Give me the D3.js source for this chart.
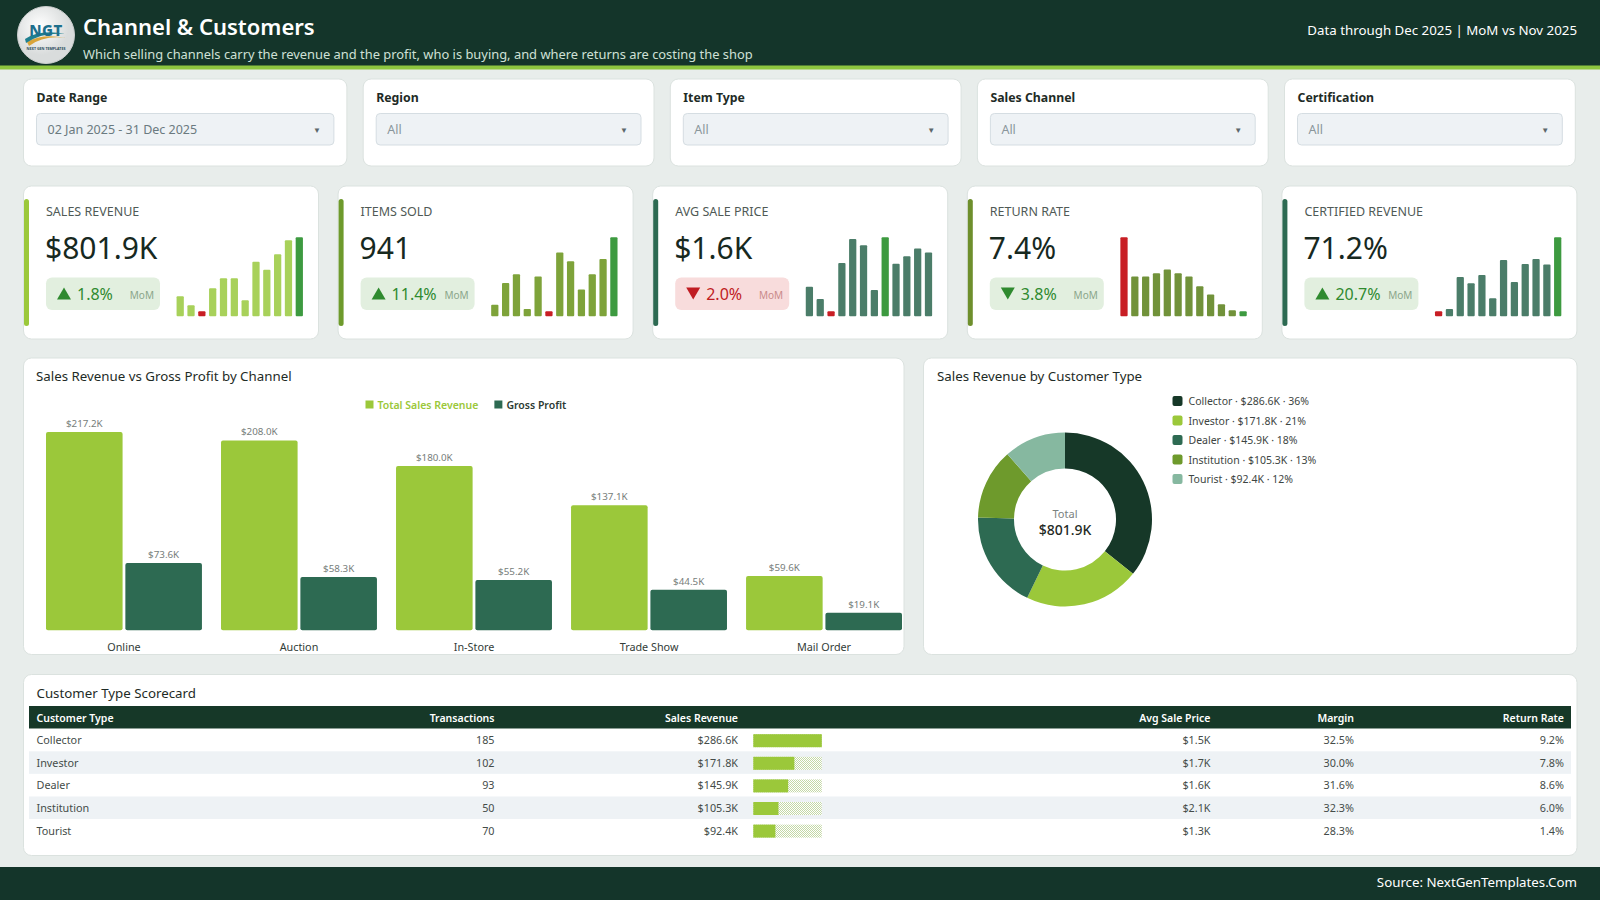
<!DOCTYPE html>
<html>
<head>
<meta charset="utf-8">
<title>Channel & Customers</title>
<script src="https://cdn.jsdelivr.net/npm/d3@7"></script>
<style>
html, body { margin: 0; padding: 0; background: #e8edeb; }
svg { display: block; font-family: "Segoe UI", "Noto Sans", sans-serif; }
</style>
</head>
<body>
<div id="dash"></div>
<script>
// ---- data ----
const filterLabels = ["Date Range", "Region", "Item Type", "Sales Channel", "Certification"];
const filterValues = ["02 Jan 2025 - 31 Dec 2025", "All", "All", "All", "All"];

const kpiTitles = ["SALES REVENUE", "ITEMS SOLD", "AVG SALE PRICE", "RETURN RATE", "CERTIFIED REVENUE"];
const kpiValues = ["$801.9K", "941", "$1.6K", "7.4%", "71.2%"];
const kpiDeltas = [1.8, 11.4, -2.0, -3.8, 20.7];
const kpiLowerIsBetter = [false, false, false, true, false];

const months = ["Jan", "Feb", "Mar", "Apr", "May", "Jun", "Jul", "Aug", "Sep", "Oct", "Nov", "Dec"];
const revenueMonthly = [56.8, 52.1, 49.0, 60.9, 66.1, 66.1, 54.7, 74.6, 70.4, 78.4, 85.7, 87.2];
const itemsMonthly = [66, 76, 80, 64, 79, 63, 90, 86, 73, 80, 87, 97];
const avgPriceMonthly = [1470, 1360, 1250, 1680, 1895, 1840, 1440, 1910, 1675, 1740, 1810, 1775];
const returnRateMonthly = [13.4, 8.15, 8.15, 8.6, 9.1, 8.6, 8.15, 6.85, 5.75, 4.45, 3.64, 3.5];
const certifiedMonthly = [50.6, 52.0, 71.1, 67.3, 72.3, 58.4, 81.2, 68.1, 78.8, 81.8, 78.5, 94.8];

const channels = ["Online", "Auction", "In-Store", "Trade Show", "Mail Order"];
const channelRevenue = [217.2, 208.0, 180.0, 137.1, 59.6];
const channelProfit = [73.6, 58.3, 55.2, 44.5, 19.1];

const totalSalesRevenue = 801.9;
const customerTypes = ["Collector", "Investor", "Dealer", "Institution", "Tourist"];
const customerRevenue = [286.6, 171.8, 145.9, 105.3, 92.4];
const customerTransactions = [185, 102, 93, 50, 70];
const customerAvgPrice = [1.5, 1.7, 1.6, 2.1, 1.3];
const customerMargin = [32.5, 30.0, 31.6, 32.3, 28.3];
const customerReturnRate = [9.2, 7.8, 8.6, 6.0, 1.4];

// ---- colours ----
const dark = "#14352a";
const lime = "#9bc83a";
const forest = "#2d6a52";
const kpiAccent = ["#9bc83a", "#6e9a2c", "#2d6a52", "#6e8f2c", "#2d6a52"];
const sparkColor = ["#a8d15a", "#7ea33a", "#4b7d69", "#71923a", "#4b7d69"];
const sparkGood = "#3d9a40";
const sparkBad = "#c81e24";
const donutColors = ["#163828", "#9bc83a", "#2d6a52", "#6e9a2c", "#86b8a0"];

const fmtK = v => "$" + d3.format(".1f")(v) + "K";

const W = 1600, H = 900;
const svg = d3.select("#dash").append("svg")
    .attr("width", W)
    .attr("height", H);

const defs = svg.append("defs");
const grad = defs.append("radialGradient").attr("id", "logoGrad").attr("cx", "40%").attr("cy", "35%");
grad.append("stop").attr("offset", "0%").attr("stop-color", "#ffffff");
grad.append("stop").attr("offset", "100%").attr("stop-color", "#d9dcdc");
const hatch = defs.append("pattern").attr("id", "hatch")
    .attr("width", 2).attr("height", 2).attr("patternUnits", "userSpaceOnUse");
hatch.append("rect").attr("width", 2).attr("height", 2).attr("fill", "#ffffff");
hatch.append("rect").attr("width", 1).attr("height", 1).attr("fill", "#c4d8a6");
hatch.append("rect").attr("x", 1).attr("y", 1).attr("width", 1).attr("height", 1).attr("fill", "#c4d8a6");

svg.append("rect").attr("width", W).attr("height", H).attr("fill", "#e8edeb");

function panel(x, y, w, h) {
    return svg.append("rect")
        .attr("x", x).attr("y", y).attr("width", w).attr("height", h)
        .attr("rx", 8)
        .attr("fill", "#ffffff")
        .attr("stroke", "#dbe2df");
}

// ---- header ----
svg.append("rect").attr("width", W).attr("height", 66).attr("fill", dark);
svg.append("rect").attr("y", 65.5).attr("width", W).attr("height", 4).attr("fill", "#8dc63f");

const logo = svg.append("g").attr("transform", "translate(46,35)");
logo.append("circle").attr("r", 28.5).attr("fill", "url(#logoGrad)").attr("stroke", "#c9cccc");
logo.append("path")
    .attr("d", "M-19,7 Q-4,-2 20,3 Q-2,0 -17,11 Z")
    .attr("fill", "#d9a43a");
logo.append("path")
    .attr("d", "M-21,4 Q-6,-6 19,-1 Q-4,-3 -20,8 Z")
    .attr("fill", "#1f7f8f");
logo.append("text").attr("y", 1).attr("text-anchor", "middle")
    .attr("font-size", 15).attr("font-weight", 800).attr("fill", "#1d6f8c")
    .attr("letter-spacing", 0.5)
    .text("NGT");
logo.append("text").attr("y", 15).attr("text-anchor", "middle")
    .attr("font-size", 3.6).attr("font-weight", 700).attr("fill", "#2a4a5a")
    .text("NEXT GEN TEMPLATES");

svg.append("text").attr("x", 83).attr("y", 35)
    .attr("font-size", 22).attr("font-weight", 600).attr("fill", "#ffffff")
    .text("Channel & Customers");
svg.append("text").attr("x", 83).attr("y", 59)
    .attr("font-size", 12.9).attr("fill", "#cfe0d6")
    .text("Which selling channels carry the revenue and the profit, who is buying, and where returns are costing the shop");
svg.append("text").attr("x", 1577).attr("y", 35).attr("text-anchor", "end")
    .attr("font-size", 13.3).attr("fill", "#ffffff")
    .text("Data through Dec 2025 | MoM vs Nov 2025");

// ---- filter cards ----
filterLabels.forEach((label, i) => {
    const w = i === 0 ? 323.4 : 290.8;
    const x = i === 0 ? 23.5 : 23.5 + 323.4 + 16.3 + (i - 1) * (290.8 + 16.3);
    panel(x, 79, w, 87);
    svg.append("text").attr("x", x + 13).attr("y", 102)
        .attr("font-size", 12.3).attr("font-weight", 700).attr("fill", "#1e2b26")
        .text(label);
    svg.append("rect")
        .attr("x", x + 13).attr("y", 113.5).attr("width", w - 26).attr("height", 31.5)
        .attr("rx", 4).attr("fill", "#eef2f5").attr("stroke", "#d5dde2");
    svg.append("text").attr("x", x + 24).attr("y", 134)
        .attr("font-size", 12.5).attr("fill", i === 0 ? "#6b7a80" : "#8a969b")
        .text(filterValues[i]);
    svg.append("text").attr("x", x + w - 30).attr("y", 133)
        .attr("font-size", 8).attr("fill", "#5c676b").attr("text-anchor", "middle")
        .text("▼");
});

// ---- KPI cards ----
const sparkData = [revenueMonthly, itemsMonthly, avgPriceMonthly, returnRateMonthly, certifiedMonthly];
kpiTitles.forEach((title, i) => {
    const x = 23.5 + i * (295 + 19.6), y = 186, w = 295;
    panel(x, y, w, 153);
    svg.append("rect").attr("x", x + 0.5).attr("y", y + 13).attr("width", 5).attr("height", 127)
        .attr("rx", 2.5).attr("fill", kpiAccent[i]);
    svg.append("text").attr("x", x + 22.5).attr("y", y + 29.5)
        .attr("font-size", 12.5).attr("fill", "#505a56")
        .text(title);
    svg.append("text").attr("x", x + 21.5).attr("y", y + 73)
        .attr("font-size", 30).attr("fill", "#17291f")
        .text(kpiValues[i]);

    const up = kpiDeltas[i] >= 0;
    const good = kpiLowerIsBetter[i] ? !up : up;
    const tone = good ? "#2f8a2f" : "#c01c22";
    const badge = svg.append("g").attr("transform", `translate(${x + 22.5},${y + 91.5})`);
    badge.append("rect").attr("width", 114).attr("height", 32.5).attr("rx", 6)
        .attr("fill", good ? "#e2efdf" : "#f8dcdc");
    badge.append("path")
        .attr("d", up ? "M11,22 L18,10 L25,22 Z" : "M11,10 L25,10 L18,22 Z")
        .attr("fill", tone);
    badge.append("text").attr("x", 31).attr("y", 22)
        .attr("font-size", 16).attr("fill", tone)
        .text(d3.format(".1f")(Math.abs(kpiDeltas[i])) + "%");
    badge.append("text").attr("x", 108).attr("y", 21.5).attr("text-anchor", "end")
        .attr("font-size", 10).attr("fill", good ? "#8aa58a" : "#c98a8a")
        .text("MoM");

    // sparkline bars
    const vals = sparkData[i];
    const sx = d3.scaleBand().domain(months).range([x + 149.5, x + w - 12]).padding(0.33);
    const sh = d3.scaleLinear().domain(d3.extent(vals)).range([5, 79]);
    const base = y + 130.3;
    const maxV = d3.max(vals), minV = d3.min(vals);
    svg.append("g").selectAll("rect")
        .data(vals)
        .join("rect")
        .attr("x", (d, j) => sx(months[j]))
        .attr("y", d => base - sh(d))
        .attr("width", sx.bandwidth())
        .attr("height", d => sh(d))
        .attr("rx", 1)
        .attr("fill", d => {
            if (d === maxV) return kpiLowerIsBetter[i] ? sparkBad : sparkGood;
            if (d === minV) return kpiLowerIsBetter[i] ? sparkGood : sparkBad;
            return sparkColor[i];
        });
});

// ---- channel chart ----
panel(23.5, 358, 880.5, 296.5);
svg.append("text").attr("x", 36).attr("y", 381)
    .attr("font-size", 13.3).attr("fill", "#1e2b26")
    .text("Sales Revenue vs Gross Profit by Channel");

const series = ["Total Sales Revenue", "Gross Profit"];
const seriesColor = [lime, forest];
const legend = svg.append("g").attr("transform", "translate(365.5,409)");
let lx = 0;
series.forEach((s, i) => {
    legend.append("rect").attr("x", lx).attr("y", -8.5).attr("width", 8).attr("height", 8).attr("fill", seriesColor[i]);
    const t = legend.append("text").attr("x", lx + 12).attr("font-size", 10.5)
        .attr("fill", i === 0 ? lime : "#2c3a33").attr("font-weight", 600)
        .text(s);
    lx += 12 + t.node().getComputedTextLength() + 16;
});

const x0 = d3.scaleBand().domain(channels).range([46, 902]).paddingInner(0.109);
const x1 = d3.scaleBand().domain(series).range([0, x0.bandwidth()]).paddingInner(0.035);
const y = d3.scaleLinear().domain([0, 250]).range([630.3, 630.3 - 0.913 * 250]);

const groups = svg.append("g").selectAll("g")
    .data(channels)
    .join("g")
    .attr("transform", d => `translate(${x0(d)},0)`);
groups.each(function (c, i) {
    const g = d3.select(this);
    const vals = [channelRevenue[i], channelProfit[i]];
    g.selectAll("rect")
        .data(vals)
        .join("rect")
        .attr("x", (d, j) => x1(series[j]))
        .attr("y", d => y(d))
        .attr("width", x1.bandwidth())
        .attr("height", d => y(0) - y(d))
        .attr("rx", 2)
        .attr("fill", (d, j) => seriesColor[j]);
    g.selectAll("text.val")
        .data(vals)
        .join("text")
        .attr("class", "val")
        .attr("x", (d, j) => x1(series[j]) + x1.bandwidth() / 2)
        .attr("y", d => y(d) - 5)
        .attr("text-anchor", "middle")
        .attr("font-size", 9.8).attr("fill", "#767d7a")
        .text(d => fmtK(d));
});
const xAxis = svg.append("g").attr("transform", "translate(0,631)")
    .call(d3.axisBottom(x0).tickSize(0).tickPadding(12));
xAxis.select(".domain").remove();
xAxis.selectAll("text").attr("font-size", 10.8).attr("fill", "#333c38")
    .attr("font-family", "\"Segoe UI\", \"Noto Sans\", sans-serif");

// ---- donut ----
panel(923.5, 358, 653.5, 296.5);
svg.append("text").attr("x", 937).attr("y", 381)
    .attr("font-size", 13.3).attr("fill", "#1e2b26")
    .text("Sales Revenue by Customer Type");

const pie = d3.pie().sort(null).value(d => d);
const arc = d3.arc().innerRadius(51).outerRadius(87);
const donut = svg.append("g").attr("transform", "translate(1065,519.5)");
donut.selectAll("path")
    .data(pie(customerRevenue))
    .join("path")
    .attr("d", arc)
    .attr("fill", (d, i) => donutColors[i]);
donut.append("text").attr("y", -2).attr("text-anchor", "middle")
    .attr("font-size", 11).attr("fill", "#7a817e").text("Total");
donut.append("text").attr("y", 15).attr("text-anchor", "middle")
    .attr("font-size", 14).attr("font-weight", 500).attr("fill", "#1f2a25").text(fmtK(totalSalesRevenue));

const pct = d3.format(".0%");
const dl = svg.append("g").attr("transform", "translate(1172.5,401)");
customerTypes.forEach((c, i) => {
    dl.append("rect").attr("y", i * 19.5 - 5).attr("width", 10).attr("height", 10).attr("rx", 2)
        .attr("fill", donutColors[i]);
    dl.append("text").attr("x", 16).attr("y", i * 19.5 + 4)
        .attr("font-size", 10.5).attr("fill", "#3d4542")
        .text(`${c} · ${fmtK(customerRevenue[i])} · ${pct(customerRevenue[i] / totalSalesRevenue)}`);
});

// ---- scorecard table ----
panel(23.5, 674.5, 1553.5, 181);
svg.append("text").attr("x", 36.5).attr("y", 697.5)
    .attr("font-size", 13.3).attr("fill", "#1e2b26")
    .text("Customer Type Scorecard");

const tableLeft = 29, tableRight = 1571, rowH = 22.6, headTop = 706, headH = 22.7;
svg.append("rect").attr("x", tableLeft).attr("y", headTop).attr("width", tableRight - tableLeft).attr("height", headH)
    .attr("fill", "#163828");
const columns = [
    { name: "Customer Type", x: 36.5, anchor: "start", fmt: i => customerTypes[i] },
    { name: "Transactions", x: 494.5, anchor: "end", fmt: i => customerTransactions[i] },
    { name: "Sales Revenue", x: 738, anchor: "end", fmt: i => fmtK(customerRevenue[i]) },
    { name: "Avg Sale Price", x: 1210.5, anchor: "end", fmt: i => "$" + d3.format(".1f")(customerAvgPrice[i]) + "K" },
    { name: "Margin", x: 1354, anchor: "end", fmt: i => d3.format(".1f")(customerMargin[i]) + "%" },
    { name: "Return Rate", x: 1564, anchor: "end", fmt: i => d3.format(".1f")(customerReturnRate[i]) + "%" }
];
columns.forEach(col => {
    svg.append("text").attr("x", col.x).attr("y", headTop + 15.5).attr("text-anchor", col.anchor)
        .attr("font-size", 10.5).attr("font-weight", 600).attr("fill", "#ffffff")
        .text(col.name);
});
const barX = d3.scaleLinear().domain([0, d3.max(customerRevenue)]).range([0, 68.5]);
customerTypes.forEach((c, i) => {
    const ry = headTop + headH + i * rowH;
    svg.append("rect").attr("x", tableLeft).attr("y", ry).attr("width", tableRight - tableLeft).attr("height", rowH)
        .attr("fill", i % 2 ? "#eef2f5" : "#ffffff");
    columns.forEach(col => {
        svg.append("text").attr("x", col.x).attr("y", ry + 15.5).attr("text-anchor", col.anchor)
            .attr("font-size", 10.8).attr("fill", "#444c49")
            .text(col.fmt(i));
    });
    svg.append("rect").attr("x", 753.3).attr("y", ry + 5.5).attr("width", barX.range()[1]).attr("height", 13)
        .attr("fill", "url(#hatch)");
    svg.append("rect").attr("x", 753.3).attr("y", ry + 5.5).attr("width", barX(customerRevenue[i])).attr("height", 13)
        .attr("fill", lime);
});

// ---- footer ----
svg.append("rect").attr("y", 867).attr("width", W).attr("height", H - 867).attr("fill", dark);
svg.append("text").attr("x", 1577).attr("y", 887).attr("text-anchor", "end")
    .attr("font-size", 13.3).attr("fill", "#ffffff")
    .text("Source: NextGenTemplates.Com");
</script>
</body>
</html>
